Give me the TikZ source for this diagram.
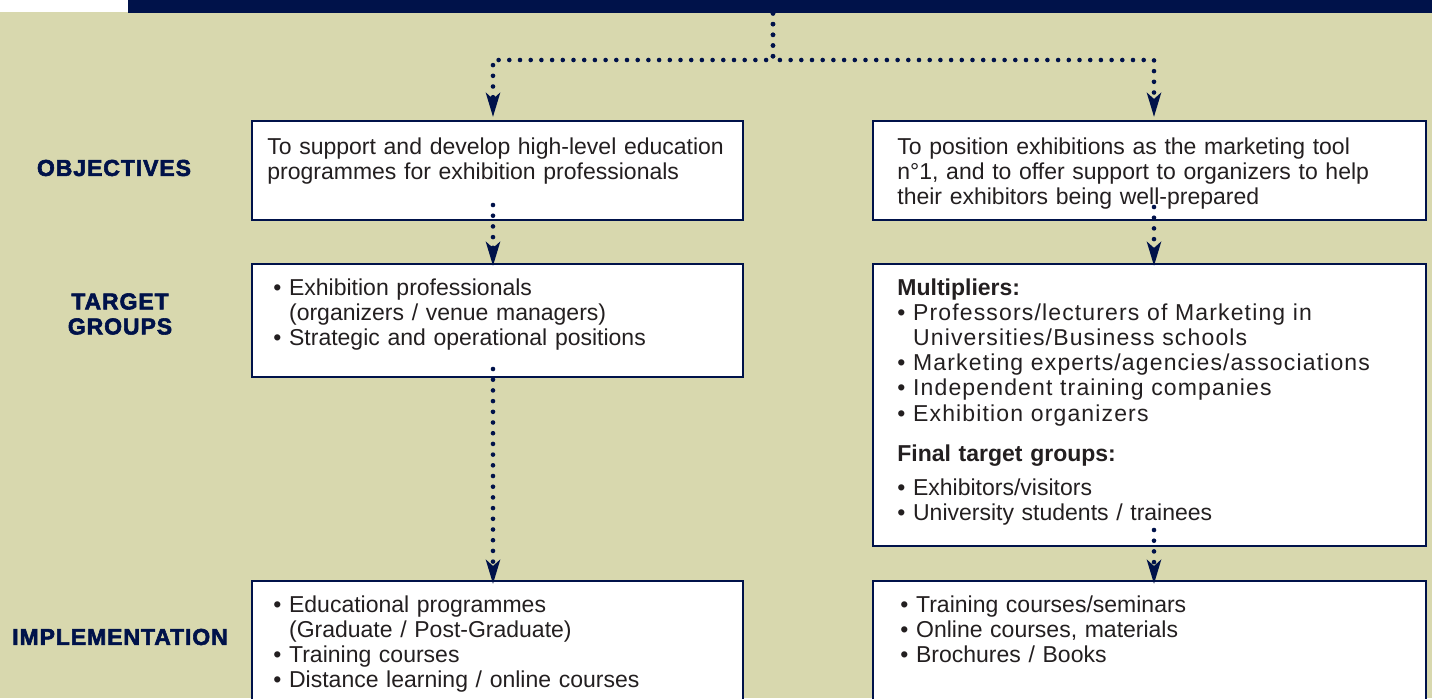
\documentclass[tikz,border=0pt]{standalone}
\usepackage{fontspec}
\setmainfont{Liberation Sans}
\newfontfamily\headfont[FakeBold=2.5,LetterSpace=4]{Liberation Sans}
\usetikzlibrary{arrows.meta,fit,calc,positioning}
\definecolor{navy}{HTML}{00124A}
\definecolor{khaki}{HTML}{D8D8AE}
\definecolor{ink}{HTML}{231F20}
\newcommand{\itm}{\textbullet\ }
\newcommand{\ind}{\hphantom{\textbullet\ }}
\newcommand{\wide}{\addfontfeature{LetterSpace=5}}
\tikzset{
  every node/.style={
    font=\fontsize{11.5pt}{12.6pt}\selectfont
  },
  rowlabel/.style={
    text=navy,
    align=center,
    inner sep=0pt,
    font=\headfont\bfseries\fontsize{11.5pt}{12.5pt}\selectfont
  },
  box/.style={
    draw=navy,
    line width=1pt,
    fill=white,
    inner sep=0pt
  },
  boxtext/.style={
    anchor=base west,
    inner sep=0pt,
    text=ink,
    text width=300pt,
    align=left
  },
  conn/.style={
    navy,
    line width=2.3pt,
    line cap=round,
    dash pattern=on 0pt off 5.35pt,
    -{Stealth[length=12pt,width=7pt,inset=3pt]}
  }
}
\begin{document}
\begin{tikzpicture}[x=0.5pt,y=-0.5pt]
  \useasboundingbox (0,0) rectangle (1432,698);
  \clip (0,0) rectangle (1432,698);
  \fill[khaki] (0,0) rectangle (1432,698);
  \fill[white] (0,0) rectangle (128,12);
  \node[fill=navy, inner sep=0pt, fit={(128,0) (1432,13)}] (topbar) {};

  % row labels
  \node[rowlabel] (objlbl) at (114,168) {OBJECTIVES};
  \node[rowlabel] (tgtlbl) at (120,314) {TARGET\\GROUPS};
  \node[rowlabel] (implbl) at (120,637) {IMPLEMENTATION};

  % boxes
  \node[box, fit={(252,121) (743,220)}] (lobj) {};
  \node[box, fit={(873,121) (1426,220)}] (robj) {};
  \node[box, fit={(252,264) (743,377)}] (ltgt) {};
  \node[box, fit={(873,264) (1426,546)}] (rtgt) {};
  \node[box, fit={(252,581) (743,720)}] (limp) {};
  \node[box, fit={(873,581) (1426,720)}] (rimp) {};

  % texts
  \node[boxtext] (lobjtxt) at (267,154) {To support and develop high-level education\\
    programmes for exhibition professionals};
  \node[boxtext] (robjtxt) at (897,154) {To position exhibitions as the marketing tool\\
    n°1, and to offer support to organizers to help\\
    their exhibitors being well-prepared};
  \node[boxtext] (ltgttxt) at (273,295) {\itm Exhibition professionals\\
    \ind(organizers / venue managers)\\
    \itm Strategic and operational positions};
  \node[boxtext] (rtgttxt) at (897,295) {\textbf{Multipliers:}\\
    {\wide\itm Professors/lecturers of Marketing in}\\
    {\wide\ind Universities/Business schools}\\
    {\wide\itm Marketing experts/agencies/associations}\\
    {\wide\itm Independent training companies}\\
    {\wide\itm Exhibition organizers}\\[7.4pt]
    \textbf{Final target groups:}\\[4.4pt]
    \itm Exhibitors/visitors\\
    \itm University students / trainees};
  \node[boxtext] (limptxt) at (273,612) {\itm Educational programmes\\
    \ind(Graduate / Post-Graduate)\\
    \itm Training courses\\
    \itm Distance learning / online courses};
  \node[boxtext] (rimptxt) at (900,612) {\itm Training courses/seminars\\
    \itm Online courses, materials\\
    \itm Brochures / Books};

  % connectors
  \coordinate (lcol) at (493,0);
  \coordinate (rcol) at (1154,0);
  \coordinate (split) at (773,60);
  \draw[conn] (topbar.south -| split) -- (split) -| ($(lobj.north -| lcol)+(0,-3)$);
  \draw[conn] (topbar.south -| split) -- (split) -| ($(robj.north -| rcol)+(0,-3)$);
  \draw[conn] ($(lobj.south -| lcol)+(0,-16)$) -- ($(ltgt.north -| lcol)+(0,3)$);
  \draw[conn] ($(robj.south -| rcol)+(0,-14)$) -- ($(rtgt.north -| rcol)+(0,3)$);
  \draw[conn] ($(ltgt.south -| lcol)+(0,-9)$) -- ($(limp.north -| lcol)+(0,4)$);
  \draw[conn] ($(rtgt.south -| rcol)+(0,-17)$) -- ($(rimp.north -| rcol)+(0,4)$);
\end{tikzpicture}
\end{document}
